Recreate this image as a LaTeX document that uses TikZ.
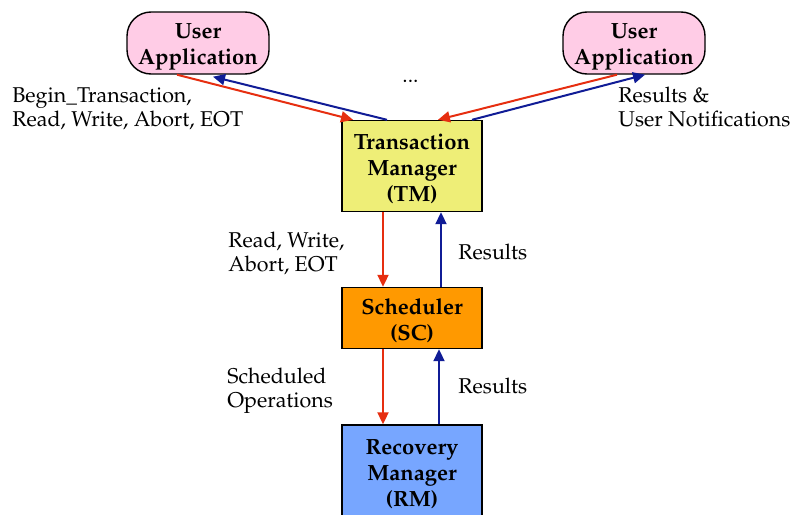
\documentclass[tikz,border=0pt]{standalone}
\usepackage[T1]{fontenc}
\usepackage{mathpazo}
\usetikzlibrary{arrows.meta,calc}
\definecolor{appfill}{HTML}{FFCCE6}
\definecolor{tmfill}{HTML}{EEEE77}
\definecolor{scfill}{HTML}{FF9900}
\definecolor{rmfill}{HTML}{77A6FF}
\definecolor{reqred}{HTML}{E62E10}
\definecolor{resblue}{HTML}{101C96}
% raises the first line's height so the text block sits a little lower
\newcommand{\toppad}{\rule{0pt}{11pt}}
\tikzset{
  comp/.style={draw=black, line width=0.7pt, align=center, inner sep=0pt,
    font=\fontsize{11}{13}\selectfont\bfseries},
  app/.style={comp, fill=appfill, rounded corners=12pt,
    minimum width=71pt, minimum height=31pt},
  mgr/.style={comp, minimum width=70pt},
  req/.style={draw=reqred, line width=1pt, -{Triangle[length=6pt,width=5.5pt]}},
  res/.style={draw=resblue, line width=1pt, -{Triangle[length=6pt,width=5.5pt]}},
  lbl/.style={align=left, anchor=north west, inner sep=0pt,
    font=\fontsize{10.7}{12}\selectfont}
}
\begin{document}
\begin{tikzpicture}[x=0.5pt, y=-0.5pt]
\useasboundingbox (0,0) rectangle (791,514);
\begin{scope}
\clip (0,0) rectangle (791,514);
% components
\node[app] (ua1) at (198,43) {\toppad User\\Application};
\node[app] (ua2) at (634,43) {\toppad User\\Application};
\node[mgr, fill=tmfill, minimum height=45.5pt] (tm) at (412,166) {\toppad Transaction\\Manager\\(TM)};
\node[mgr, fill=scfill, minimum height=30.5pt] (sc) at (412,318) {\toppad Scheduler\\(SC)};
\node[mgr, fill=rmfill, minimum height=46pt] (rm) at (412,471) {\toppad Recovery\\Manager\\(RM)};
\end{scope}
% user applications <-> transaction manager
\draw[req] ($(ua1.south)+(-21,0)$) -- ($(tm.north)+(-59,0)$);
\draw[res] ($(tm.north)+(-25,0)$) -- ($(ua1.south)+(15,2)$);
\draw[req] ($(ua2.south)+(-17,0)$) -- ($(tm.north)+(26,0)$);
\draw[res] ($(tm.north)+(60,0)$) -- ($(ua2.south)+(11,0)$);
% transaction manager <-> scheduler
\draw[req] ($(tm.south)+(-29,0)$) -- ($(sc.north)+(-29,0)$);
\draw[res] ($(sc.north)+(29,0)$) -- ($(tm.south)+(29,0)$);
% scheduler <-> recovery manager
\draw[req] ($(sc.south)+(-29,0)$) -- ($(rm.north)+(-29,0)$);
\draw[res] ($(rm.north)+(27,0)$) -- ($(sc.south)+(27,0)$);
% labels
\node[lbl] (l1) at (12,87) {Begin\_Transaction,\\Read, Write, Abort, EOT};
\node[lbl] (l2) at (618,87) {Results \&\\User Notifications};
\node[lbl, anchor=base west] (dots) at (402,82) {...};
\node[lbl] (l3) at (228,232) {Read, Write,\\Abort, EOT};
\node[lbl] (l4) at (458,244) {Results};
\node[lbl] (l5) at (227,368) {Scheduled\\Operations};
\node[lbl] (l6) at (458,378) {Results};
\end{tikzpicture}
\end{document}
